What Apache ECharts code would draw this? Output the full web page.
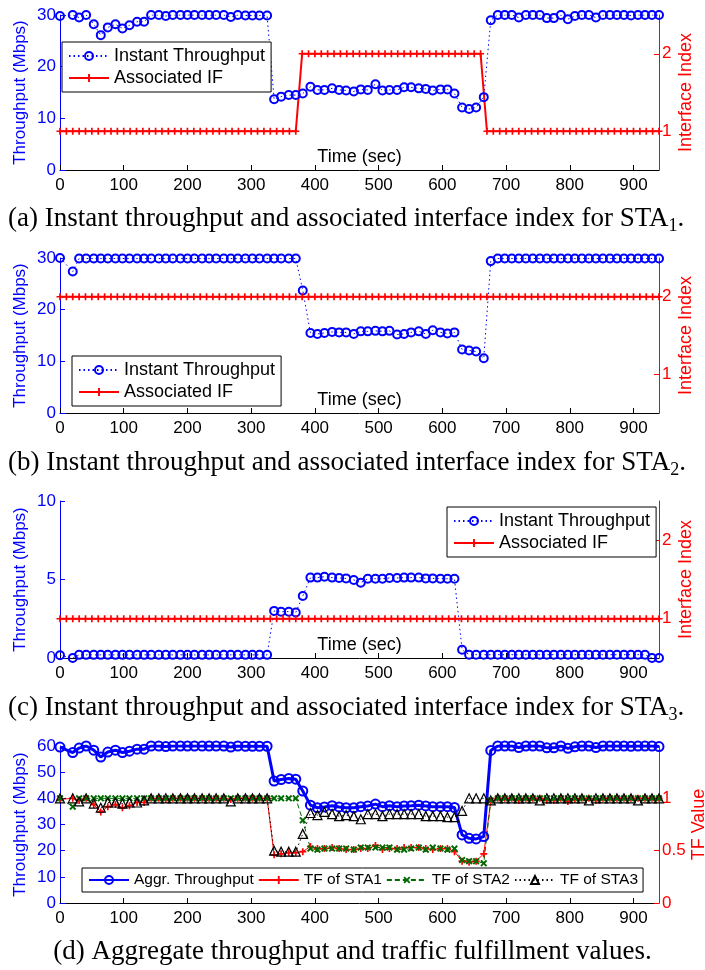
<!DOCTYPE html>
<html>
<head>
<meta charset="utf-8">
<script src="https://cdn.jsdelivr.net/npm/echarts@6/dist/echarts.min.js"></script>
<style>
  html, body { margin: 0; padding: 0; background: #fff; }
  #chart { width: 705px; height: 970px; }
</style>
</head>
<body>
<div id="chart"></div>
<script>
// sample times of the throughput measurements (sec)
var time = [0,20,30,41,53,64,75,87,98,109,121,132,143,155,166,177,189,200,211,223,234,245,257,268,279,291,302,313,325,
  336,347,359,370,381,393,404,415,427,438,449,461,472,483,495,506,517,529,540,551,563,574,585,597,608,619,631,642,653,665,676,
  687,698,709,720,731,742,753,764,775,786,797,808,819,830,841,852,863,874,885,896,907,918,929,940];

// sample times of the associated interface (sec)
var ifTime = [0,10,20,30,40,50,60,70,80,90,100,110,120,130,140,150,160,170,180,190,200,210,220,230,240,250,260,270,280,290,
  300,310,320,330,340,350,360,370,380,390,400,410,420,430,440,450,460,470,480,490,500,510,520,530,540,550,560,570,580,590,
  600,610,620,630,640,650,660,670,680,690,700,710,720,730,740,750,760,770,780,790,800,810,820,830,840,850,860,870,880,890,
  900,910,920,930,940];

// instant throughput (Mbps)
var thrSta1 = [29.8,30,29.5,30,28.2,26.1,27.6,28.2,27.4,28.0,28.7,28.7,30,30,29.8,30,30,30,30,30,30,30,30,29.6,30,29.9,29.9,29.9,29.9,
  13.7,14.2,14.5,14.5,14.8,16.1,15.5,15.5,15.8,15.5,15.4,15.2,15.6,15.5,16.6,15.4,15.5,15.5,16.0,16.0,15.8,15.7,15.4,15.6,15.6,14.8,12.1,11.8,12.1,14.1,29.0,
  30,30,30,29.5,30,30,30,29.4,29.4,30,29.2,29.8,30,30,29.5,30,30,30,30,29.9,30,30,30,30];
var thrSta2 = [30,27.4,29.9,29.9,29.9,29.9,29.9,29.9,29.9,29.9,29.9,29.9,29.9,29.9,29.9,29.9,29.9,29.9,29.9,29.9,29.9,29.9,29.9,29.9,29.9,29.9,29.9,29.9,29.9,
  29.9,29.9,29.9,29.9,23.7,15.5,15.3,15.5,15.7,15.6,15.6,15.3,15.8,15.8,15.9,15.8,15.9,15.2,15.3,15.6,15.8,15.3,16.0,15.6,15.4,15.6,12.3,12.1,11.9,10.6,29.4,
  29.9,29.9,29.9,29.9,29.9,29.9,29.9,29.9,29.9,29.9,29.9,29.9,29.9,29.9,29.9,29.9,29.9,29.9,29.9,29.9,29.9,29.9,29.9,29.9];
var thrSta3 = [0.17,0.0,0.2,0.2,0.2,0.2,0.2,0.2,0.2,0.2,0.2,0.2,0.2,0.2,0.2,0.2,0.2,0.2,0.2,0.2,0.2,0.2,0.2,0.2,0.2,0.2,0.2,0.2,0.2,
  3.0,2.95,2.95,2.9,3.95,5.12,5.12,5.18,5.12,5.1,5.07,4.97,4.8,5.05,5.05,5.05,5.1,5.1,5.12,5.12,5.12,5.07,5.07,5.05,5.05,5.05,0.53,0.21,0.21,0.21,0.21,
  0.21,0.21,0.21,0.21,0.21,0.21,0.21,0.21,0.21,0.21,0.21,0.21,0.21,0.21,0.21,0.21,0.21,0.21,0.21,0.21,0.21,0.21,0.0,0.0];

// associated interface index
var ifSta1 = [1,1,1,1,1,1,1,1,1,1,1,1,1,1,1,1,1,1,1,1,1,1,1,1,1,1,1,1,1,1,1,1,1,1,1,1,1,1,
  2,2,2,2,2,2,2,2,2,2,2,2,2,2,2,2,2,2,2,2,2,2,2,2,2,2,2,2,2,
  1,1,1,1,1,1,1,1,1,1,1,1,1,1,1,1,1,1,1,1,1,1,1,1,1,1,1,1];
var ifSta2 = [2,2,2,2,2,2,2,2,2,2,2,2,2,2,2,2,2,2,2,2,2,2,2,2,2,2,2,2,2,2,2,2,2,2,2,2,2,2,
  2,2,2,2,2,2,2,2,2,2,2,2,2,2,2,2,2,2,2,2,2,2,2,2,2,2,2,2,2,
  2,2,2,2,2,2,2,2,2,2,2,2,2,2,2,2,2,2,2,2,2,2,2,2,2,2,2,2];
var ifSta3 = [1,1,1,1,1,1,1,1,1,1,1,1,1,1,1,1,1,1,1,1,1,1,1,1,1,1,1,1,1,1,1,1,1,1,1,1,1,1,
  1,1,1,1,1,1,1,1,1,1,1,1,1,1,1,1,1,1,1,1,1,1,1,1,1,1,1,1,1,
  1,1,1,1,1,1,1,1,1,1,1,1,1,1,1,1,1,1,1,1,1,1,1,1,1,1,1,1];

// aggregate throughput (Mbps) and traffic fulfillment
var aggrThr = [59.6,57.5,59.2,60,58.4,55.8,57.7,58.4,57.5,58.0,58.8,58.8,60,60,59.8,60,60,60,60,60,60,60,60,59.6,60,59.9,59.9,59.9,59.9,
  46.6,47.2,47.6,47.3,42.8,37.4,36.4,36.7,37.2,36.7,36.4,36.4,36.8,37.1,37.8,36.8,37.2,36.8,37.1,37.2,37.4,37.1,36.8,36.8,36.8,36.5,26.0,24.7,24.5,25.4,58.3,
  60,60,60,59.4,60,60,60,59.3,59.3,60,59.1,59.7,60,60,59.4,60,60,60,60,59.9,60,60,60,59.8];
var tfSta1 = [0.99,1,0.98,1,0.94,0.87,0.92,0.94,0.91,0.93,0.96,0.96,1,1,0.99,1,1,1,1,1,1,1,1,0.99,1,1,1,1,1,
  0.46,0.47,0.48,0.48,0.49,0.54,0.52,0.52,0.53,0.52,0.51,0.51,0.52,0.52,0.55,0.51,0.52,0.52,0.53,0.53,0.53,0.52,0.51,0.52,0.52,0.49,0.40,0.39,0.40,0.47,0.97,
  1,1,1,0.98,1,1,1,0.98,0.98,1,0.97,0.99,1,1,0.98,1,1,1,1,1,1,1,1,1];
var tfSta2 = [1,0.92,1,1,1,1,1,1,1,1,1,1,1,1,1,1,1,1,1,1,1,1,1,1,1,1,1,1,1,
  1,1,1,1,0.79,0.52,0.51,0.52,0.52,0.52,0.52,0.51,0.53,0.53,0.53,0.53,0.53,0.51,0.51,0.52,0.53,0.51,0.53,0.52,0.51,0.52,0.41,0.40,0.40,0.38,0.98,
  1,1,1,1,1,1,1,1,1,1,1,1,1,1,1,1,1,1,1,1,1,1,1,1];
var tfSta3 = [1,1,0.97,1,0.95,0.91,0.96,0.96,0.95,0.96,0.96,0.98,1,1,1,1,1,1,1,1,1,1,1,0.97,1,1,1,1,1,
  0.5,0.49,0.49,0.49,0.66,0.86,0.84,0.87,0.85,0.83,0.84,0.83,0.80,0.85,0.85,0.83,0.85,0.85,0.85,0.85,0.85,0.83,0.83,0.83,0.82,0.82,0.88,1,1,1,0.98,
  1,1,1,1,1,1,0.98,1,1,1,1,1,1,0.98,1,1,1,1,1,1,0.98,1,1,1];

// tick labels
var xTicks = [0,100,200,300,400,500,600,700,800,900];
var ifTicks = [1,2];
var tfTicks = [0,0.5,1];

var captions = [
  '{t|(a) Instant throughput and associated interface index for STA}{s|1}{t|.}',
  '{t|(b) Instant throughput and associated interface index for STA}{s|2}{t|.}',
  '{t|(c) Instant throughput and associated interface index for STA}{s|3}{t|.}',
  '{t|(d) Aggregate throughput and traffic fulfillment values.}'
];

var myChart = echarts.init(document.getElementById('chart'));

var BLUE = '#0000ff', RED = '#ff0000', GREEN = '#006a00';
var SANS = 'Liberation Sans';
var plus = 'path://M-1.2,-5H1.2V-1.2H5V1.2H1.2V5H-1.2V1.2H-5V-1.2H-1.2Z';

function pairs(xs, ys) {
  return xs.map(function (x, i) { return [x, ys[i]]; });
}

var gridTops = [15, 258, 501, 746];
var gridHeights = [155, 155, 157, 157];
var leftMax = [30, 30, 10, 60];
var leftStep = [10, 10, 5, 10];

var grid = [], xAxis = [], yAxis = [];
for (var i = 0; i < 4; i++) {
  grid.push({
    left: 60, top: gridTops[i], width: 599, height: gridHeights[i],
    containLabel: false, outerBoundsMode: 'none'
  });
  xAxis.push({
    gridIndex: i, type: 'value', min: 0, max: 940,
    name: i < 3 ? 'Time (sec)' : '',
    nameLocation: 'middle', nameGap: -22, nameMoveOverlap: false,
    nameTextStyle: { color: '#000', fontSize: 18, fontFamily: SANS },
    axisLine: { lineStyle: { color: '#000', width: 1 } },
    axisTick: { inside: true, length: 5, customValues: xTicks, lineStyle: { color: '#000' } },
    axisLabel: { customValues: xTicks, color: '#000', fontSize: 17, fontFamily: SANS, margin: 7 },
    splitLine: { show: false }
  });
  yAxis.push({
    gridIndex: i, type: 'value', position: 'left',
    min: 0, max: leftMax[i], interval: leftStep[i],
    name: 'Throughput (Mbps)', nameLocation: 'middle', nameRotate: 90, nameGap: 31,
    nameMoveOverlap: false,
    nameTextStyle: { color: BLUE, fontSize: 17, fontFamily: SANS },
    axisLine: { show: true, lineStyle: { color: BLUE, width: 1 } },
    axisTick: { show: true, inside: true, length: 5 },
    axisLabel: { color: BLUE, fontSize: 17, fontFamily: SANS, margin: 4 },
    splitLine: { show: false }
  });
  var tf = i === 3;
  yAxis.push({
    gridIndex: i, type: 'value', position: 'right',
    min: tf ? 0 : 0.5, max: tf ? 1.5 : 2.5,
    name: tf ? 'TF Value' : 'Interface Index',
    nameLocation: 'middle', nameRotate: 90, nameGap: tf ? 31 : 18,
    nameMoveOverlap: false,
    nameTextStyle: { color: RED, fontSize: 18, fontFamily: SANS },
    axisLine: { show: true, lineStyle: { color: RED, width: 1 } },
    axisTick: { show: true, inside: true, length: 5, customValues: tf ? tfTicks : ifTicks },
    axisLabel: { customValues: tf ? tfTicks : ifTicks, color: RED, fontSize: 17, fontFamily: SANS, margin: 3 },
    splitLine: { show: false }
  });
}

var thr = [thrSta1, thrSta2, thrSta3];
var ifs = [ifSta1, ifSta2, ifSta3];
var series = [];
for (var k = 0; k < 3; k++) {
  series.push({
    name: 'Instant Throughput', type: 'line', xAxisIndex: k, yAxisIndex: 2 * k,
    data: pairs(time, thr[k]),
    symbol: 'circle', symbolSize: 8,
    itemStyle: { color: 'rgba(255,255,255,0)', borderColor: BLUE, borderWidth: 2 },
    lineStyle: { color: BLUE, width: 1, type: [1.5, 3] }
  });
  series.push({
    name: 'Associated IF', type: 'line', xAxisIndex: k, yAxisIndex: 2 * k + 1,
    data: pairs(ifTime, ifs[k]),
    symbol: plus, symbolSize: 7,
    itemStyle: { color: RED },
    lineStyle: { color: RED, width: 2 }
  });
}
series.push({
  name: 'Aggr. Throughput', type: 'line', xAxisIndex: 3, yAxisIndex: 6,
  data: pairs(time, aggrThr),
  symbol: 'circle', symbolSize: 9,
  itemStyle: { color: 'rgba(255,255,255,0)', borderColor: BLUE, borderWidth: 2 },
  lineStyle: { color: BLUE, width: 3 }
});
series.push({
  name: 'TF of STA1', type: 'line', xAxisIndex: 3, yAxisIndex: 7,
  data: pairs(time, tfSta1),
  symbol: plus, symbolSize: 7,
  itemStyle: { color: RED },
  lineStyle: { color: RED, width: 1 }
});
series.push({
  name: 'TF of STA2', type: 'line', xAxisIndex: 3, yAxisIndex: 7,
  data: pairs(time, tfSta2),
  symbol: plus, symbolSize: 8, symbolRotate: 45,
  itemStyle: { color: GREEN },
  lineStyle: { color: GREEN, width: 1, type: [5, 3] }
});
series.push({
  name: 'TF of STA3', type: 'line', xAxisIndex: 3, yAxisIndex: 7,
  data: pairs(time, tfSta3),
  symbol: 'triangle', symbolSize: 9,
  itemStyle: { color: 'rgba(255,255,255,0)', borderColor: '#000', borderWidth: 1.2 },
  lineStyle: { color: '#000', width: 1, type: [1.5, 3] }
});

function legendBox(names, left, top, orient) {
  var vertical = orient === 'vertical';
  return {
    data: names, left: left, top: top, orient: orient,
    selectedMode: false, z: 10,
    backgroundColor: '#fff', borderColor: '#000', borderWidth: 1, borderRadius: 0,
    padding: vertical ? [5, 6, 5, 6] : [4, 5, 4, 6],
    itemGap: 4,
    itemWidth: 40, itemHeight: 10,
    textStyle: { color: '#000', fontSize: vertical ? 18 : 15.5, fontFamily: SANS }
  };
}

var ifNames = ['Instant Throughput', 'Associated IF'];
var captionTops = [203, 447, 692, 938];

var option = {
  animation: false,
  backgroundColor: '#fff',
  title: captions.map(function (c, i) {
    return {
      text: c, left: i < 3 ? 8 : 'center', top: captionTops[i], padding: 0,
      textStyle: {
        fontWeight: 'normal',
        rich: {
          t: { fontFamily: 'Liberation Serif', fontSize: 27, fontWeight: 'normal', color: '#000' },
          s: { fontFamily: 'Liberation Serif', fontSize: 18, fontWeight: 'normal', color: '#000', padding: [14, 0, 0, 0] }
        }
      }
    };
  }),
  grid: grid,
  xAxis: xAxis,
  yAxis: yAxis,
  legend: [
    legendBox(ifNames, 62, 42, 'vertical'),
    legendBox(ifNames, 72, 356, 'vertical'),
    legendBox(ifNames, 447, 507, 'vertical'),
    legendBox(['Aggr. Throughput', 'TF of STA1', 'TF of STA2', 'TF of STA3'], 82, 868, 'horizontal')
  ],
  series: series
};

myChart.setOption(option);
</script>
</body>
</html>
